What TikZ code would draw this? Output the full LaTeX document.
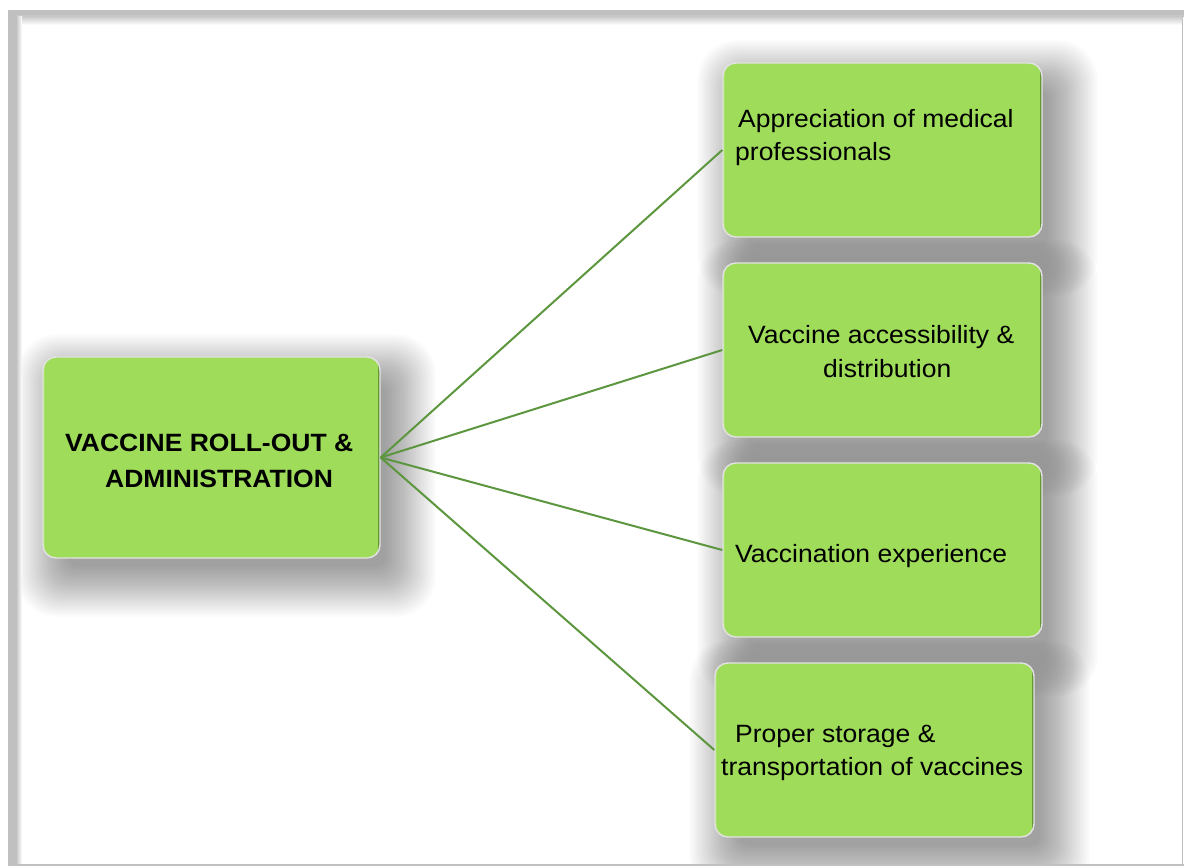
\documentclass[tikz,border=0pt]{standalone}
\usepackage{fontspec}
\setmainfont{Liberation Sans}
\newfontfamily\boxfont{Liberation Sans}[FakeStretch=1.06]
\usetikzlibrary{backgrounds}

\definecolor{gmain}{RGB}{158,220,90}
\definecolor{glight}{RGB}{176,232,112}
\definecolor{gdark}{RGB}{96,150,50}
\definecolor{linkgreen}{RGB}{92,150,62}
\definecolor{framegray}{RGB}{192,192,192}

\pgfdeclareverticalshading{boxbevel}{100bp}{%
  color(0bp)=(gdark); color(3bp)=(gdark!60!gmain); color(7bp)=(gmain);
  color(90bp)=(gmain); color(94bp)=(glight); color(97bp)=(glight);
  color(100bp)=(gmain)}

\tikzset{
  box/.style={
    rectangle, rounded corners=13pt, draw=gray!22, line width=1.4pt,
    shading=boxbevel, inner sep=0pt,
    minimum width=319pt, minimum height=174pt,
    path picture={
      \draw[gdark, line width=5pt, opacity=0.55]
        (path picture bounding box.north east) --
        (path picture bounding box.south east);
      \draw[gdark!80!black, line width=1.2pt, opacity=0.5]
        ([xshift=-1pt]path picture bounding box.north east) --
        ([xshift=-1pt]path picture bounding box.south east);
      \draw[glight, line width=3pt, opacity=0.6]
        (path picture bounding box.north west) --
        (path picture bounding box.south west);
    }
  },
  label/.style={anchor=base west, inner sep=0pt, text=black,
    font=\boxfont\fontsize{25}{30}\selectfont},
  boldlabel/.style={label, font=\boxfont\fontsize{25}{30}\selectfont\bfseries},
  link/.style={draw=linkgreen, line width=2pt},
  softshadow/.style={fill=black, opacity=0.015}
}

\begin{document}
\begin{tikzpicture}[x=1pt, y=-1pt]
  \useasboundingbox (0,0) rectangle (1184,866);

  % boxes
  \node[box, minimum width=337pt, minimum height=201pt] (c) at (211.5,457.5) {};
  \node[box] (b1) at (882.5,150) {};
  \node[box] (b2) at (882.5,350) {};
  \node[box] (b3) at (882.5,550) {};
  \node[box] (b4) at (874.5,750) {};

  \begin{scope}[on background layer]
    \fill[white] (0,0) rectangle (1184,866);
    % soft drop shadows, built from stacked translucent layers
    \foreach \b in {c,b1,b2,b3,b4}
      \foreach \r in {-10,-8,...,40}
        \fill[softshadow, rounded corners=16pt+\r*0.6pt]
          ([shift={(15pt-\r*1pt,-18pt-\r*1pt)}]\b.south west)
          rectangle ([shift={(15pt+\r*1pt,-18pt+\r*1pt)}]\b.north east);
    % page frame
    \fill[framegray] (8,10) rectangle (1184,15);
    \fill[framegray!85!white] (8,15) rectangle (1184,17);
    \shade[top color=framegray!80!white, bottom color=white] (17,17) rectangle (1182,25);
    \fill[framegray] (8,10) rectangle (17,866);
    \shade[left color=framegray!80!white, right color=white] (17,17) rectangle (22,866);
    \draw[framegray, line width=1.5pt] (1182.5,10) -- (1182.5,866);
    \draw[framegray, line width=1.5pt] (8,865.2) -- (1184,865.2);
  \end{scope}

  % connectors
  \foreach \b in {b1,b2,b3,b4}
    \draw[link] (c.east) -- (\b.west);

  % texts
  \node[boldlabel] (c1) at (65,452) {VACCINE ROLL-OUT \&};
  \node[boldlabel] (c2) at (105,487) {ADMINISTRATION};

  \node[label] (t11) at (738,128) {Appreciation of medical};
  \node[label] (t12) at (735,161) {professionals};

  \node[label] (t21) at (748,344) {Vaccine accessibility \&};
  \node[label] (t22) at (823,378) {distribution};

  \node[label] (t31) at (735,562) {Vaccination experience};

  \node[label] (t41) at (735,742) {Proper storage \&};
  \node[label] (t42) at (721,775) {transportation of vaccines};
\end{tikzpicture}
\end{document}
